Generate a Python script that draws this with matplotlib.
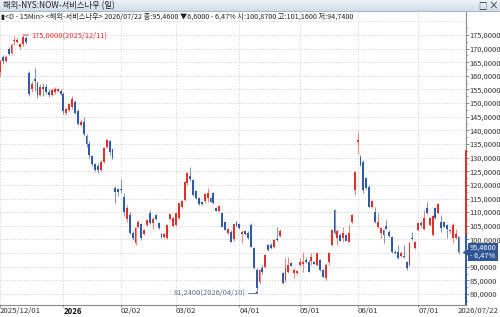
import numpy as np
import pandas as pd
import matplotlib
matplotlib.use("Agg")
import matplotlib.pyplot as plt
import matplotlib.transforms as mtransforms
from matplotlib.colors import LinearSegmentedColormap

FONT = ['Liberation Sans Narrow', 'Noto Sans CJK KR', 'DejaVu Sans']
plt.rcParams['font.family'] = FONT

# trading calendar (NYSE, 2025/12/01 - 2026/07/22)
holidays = ['2025-12-25', '2026-01-01', '2026-01-19', '2026-02-16',
            '2026-04-03', '2026-05-25', '2026-06-19', '2026-07-03']
dates = pd.bdate_range('2025-12-01', '2026-07-22', freq='C', holidays=holidays)

# daily OHLC, one line per month (Dec .. Jul)
opens = [
    161.5, 167.0, 165.5, 170.0, 168.3, 172.6, 172.4, 170.5, 171.5, 174.0, 161.0, 155.0, 159.0, 157.3, 153.0, 156.0, 156.0, 154.0, 153.0, 154.0, 154.5, 154.5,
    153.5, 146.5, 147.5, 148.5, 150.5, 147.0, 142.0, 143.0, 138.0, 135.0, 130.5, 127.5, 127.0, 125.5, 128.5, 134.0, 136.0, 133.0, 119.0, 118.5,
    118.5, 115.5, 107.5, 109.0, 102.3, 98.8, 104.7, 105.6, 101.9, 105.3, 109.6, 105.9, 109.0, 105.9, 102.0, 100.8, 100.4, 107.5, 105.0,
    105.3, 107.8, 112.0, 114.5, 120.6, 123.2, 121.8, 117.9, 115.3, 113.9, 114.2, 115.3, 115.1, 116.9, 111.4, 110.6, 109.6, 106.5, 102.3, 102.9, 100.0, 106.3,
    105.6, 102.0, 103.1, 102.5, 105.3, 96.8, 88.8, 84.5, 89.5, 90.0, 98.0, 98.0, 97.4, 100.2, 101.4, 87.6, 85.2, 88.2, 91.3, 87.7, 87.6,
    90.6, 90.9, 92.5, 91.9, 92.0, 91.6, 90.6, 92.5, 88.8, 85.8, 91.9, 98.0, 110.8, 100.4, 101.6, 100.4, 101.6, 99.2, 106.5, 118.2,
    135.6, 130.4, 128.5, 122.4, 119.4, 112.0, 110.2, 104.7, 102.3, 103.5, 105.0, 102.9, 101.0, 95.4, 95.5, 94.1, 93.8, 91.9, 90.7, 100.4, 97.0,
    103.5, 105.9, 103.9, 111.7, 105.3, 101.7, 111.4, 109.6, 106.5, 106.3, 105.3, 103.1, 100.4, 100.5, 100.87,
]
highs = [
    166.0, 167.5, 167.5, 170.5, 172.0, 174.6, 173.8, 172.0, 175.0, 174.5, 161.8, 158.0, 162.8, 158.0, 157.0, 157.3, 157.0, 155.0, 155.5, 156.0, 155.5, 155.0,
    154.0, 148.5, 150.0, 152.5, 151.0, 148.0, 144.0, 145.0, 138.5, 136.0, 131.0, 128.0, 128.0, 129.0, 134.0, 137.0, 136.5, 133.5, 119.5, 119.0,
    122.0, 117.0, 112.7, 110.0, 103.0, 104.5, 107.0, 106.0, 103.8, 107.5, 110.8, 108.4, 109.5, 106.3, 102.5, 102.3, 105.6, 109.5, 108.3,
    109.8, 113.5, 114.5, 121.5, 124.6, 126.7, 122.2, 118.3, 115.6, 114.2, 117.0, 119.0, 115.5, 117.4, 111.8, 112.6, 110.2, 106.8, 104.1, 103.3, 105.8, 106.6,
    106.0, 103.5, 103.4, 103.0, 106.0, 97.2, 89.5, 89.3, 90.6, 94.6, 98.4, 98.6, 100.0, 104.7, 103.8, 88.0, 93.1, 93.7, 91.8, 89.4, 88.8,
    93.1, 95.5, 93.5, 92.3, 95.0, 92.2, 95.0, 93.0, 89.2, 91.5, 95.5, 104.0, 111.2, 104.0, 102.5, 104.7, 102.0, 105.3, 109.2, 125.2,
    139.5, 131.0, 129.0, 123.0, 119.8, 114.6, 112.0, 109.6, 104.5, 104.0, 107.2, 103.3, 101.4, 96.0, 98.0, 95.6, 98.0, 92.2, 99.0, 102.8, 99.6,
    106.3, 106.7, 110.8, 113.9, 108.3, 109.0, 112.0, 113.5, 109.0, 106.8, 105.6, 103.8, 106.0, 103.8, 101.16,
]
lows = [
    160.0, 164.5, 165.0, 167.5, 168.0, 171.3, 172.0, 170.0, 171.0, 171.5, 152.5, 154.0, 154.5, 152.0, 152.5, 152.5, 153.5, 152.3, 152.5, 153.5, 154.0, 153.0,
    146.0, 145.5, 147.0, 148.0, 146.0, 142.0, 141.5, 138.0, 134.0, 129.8, 127.0, 125.0, 124.5, 125.0, 128.0, 133.5, 131.0, 129.5, 113.5, 116.0,
    117.0, 108.5, 106.5, 102.0, 99.8, 98.0, 104.2, 99.8, 101.5, 105.0, 105.5, 103.9, 107.0, 104.0, 100.5, 100.5, 100.0, 107.0, 104.5,
    105.0, 107.5, 111.5, 114.0, 120.0, 121.5, 116.0, 115.0, 112.8, 112.5, 113.5, 113.9, 113.6, 113.0, 110.4, 110.2, 104.5, 103.3, 102.0, 99.0, 99.5, 104.8,
    103.8, 98.6, 101.5, 100.0, 97.2, 89.2, 81.24, 83.8, 87.5, 89.5, 95.8, 96.6, 97.0, 99.6, 101.0, 83.6, 84.5, 87.8, 90.3, 85.7, 86.9,
    90.2, 88.2, 91.5, 88.0, 90.6, 90.9, 90.3, 88.5, 86.2, 85.0, 90.8, 97.5, 102.0, 98.0, 99.5, 99.2, 99.3, 99.0, 106.0, 116.4,
    131.5, 127.0, 117.2, 118.5, 111.8, 111.5, 106.2, 104.3, 100.4, 98.6, 103.8, 100.8, 95.0, 94.5, 93.0, 93.5, 93.1, 88.9, 90.3, 99.8, 96.6,
    103.0, 104.7, 103.5, 109.2, 104.8, 101.2, 107.5, 109.2, 102.9, 104.5, 100.4, 102.4, 98.6, 100.2, 94.74,
]
closes = [
    165.5, 165.5, 167.0, 168.0, 171.3, 173.2, 173.0, 171.5, 174.3, 172.5, 153.2, 157.0, 158.0, 153.0, 156.0, 155.0, 154.0, 153.0, 154.8, 155.0, 155.0, 153.5,
    147.0, 148.0, 149.5, 151.5, 146.5, 142.5, 143.0, 138.5, 135.0, 131.0, 127.5, 125.5, 125.5, 128.5, 133.5, 136.5, 132.0, 130.0, 117.5, 117.5,
    118.0, 110.0, 111.4, 102.3, 100.4, 104.1, 106.3, 100.4, 103.5, 107.0, 106.0, 107.6, 107.4, 104.1, 100.8, 102.0, 105.3, 109.2, 108.0,
    109.6, 113.3, 114.2, 121.2, 124.3, 122.0, 116.3, 115.3, 113.0, 113.0, 116.8, 116.9, 113.9, 113.3, 110.6, 112.2, 104.7, 103.5, 103.9, 99.2, 105.6, 105.0,
    104.1, 102.8, 101.9, 100.4, 97.4, 89.4, 82.1, 88.8, 88.0, 94.3, 96.1, 96.9, 99.8, 99.9, 103.1, 83.9, 89.4, 90.6, 90.4, 88.9, 88.5,
    91.8, 91.9, 91.9, 88.2, 93.6, 91.1, 94.9, 88.8, 86.4, 90.6, 94.9, 103.5, 102.3, 103.2, 99.6, 102.2, 99.6, 102.3, 109.0, 124.9,
    136.5, 127.3, 118.0, 118.8, 112.0, 114.2, 106.5, 106.3, 104.1, 101.7, 104.0, 101.1, 95.3, 94.9, 93.1, 95.2, 93.4, 89.4, 98.6, 100.0, 99.2,
    105.9, 105.3, 107.8, 109.6, 107.8, 108.7, 107.8, 112.9, 104.1, 104.7, 103.9, 103.5, 105.3, 102.06, 95.46,
]

price_ticks = [v for v in range(80, 180, 5) if v != 95]   # 95 sits under the price tag
grid_levels = list(range(80, 185, 5))
axis_band_top = 132.8          # top of red band on the price axis
prev_close = 102.06

title = "해외-NYS:NOW-서비스나우 (일)"
info = ("▮<D - 15Min> <해외-서비스나우> 2026/07/22 종:95,4600 ▼6,6000 - 6,47%"
        " 시:100,8700 고:101,1600 저:94,7400")

UP = '#e0302a'
DOWN = '#2f5aa6'
UP_WICK = '#ec8a84'
DOWN_WICK = '#8596b6'
GRID = '#cfcfcf'
TXT = '#333333'


def kfmt(v):
    return f"{v:,.4f}".replace('.', ',')


o = np.array(opens)
h = np.array(highs)
l = np.array(lows)
c = np.array(closes)
x = np.arange(len(dates))
up = c >= o

W, H = 500, 317
fig = plt.figure(figsize=(W / 100, H / 100), dpi=100)
fig.patch.set_facecolor('white')

ax = fig.add_axes([0, 1 - 305 / H, 466 / W, (305 - 12) / H])
ax.set_xlim(0.4, 161.6)
ax.set_ylim(75.95, 183.4)

# grid
for g in grid_levels:
    ax.axhline(g, color=GRID, lw=0.6, ls=(0, (1.5, 2)), zorder=0)

month_first = [i for i in range(len(dates)) if i == 0 or dates[i].month != dates[i - 1].month]
month_labels = []
for i in month_first:
    d = dates[i]
    if i == 0:
        month_labels.append(d.strftime('%Y/%m/%d'))
    elif d.month == 1:
        month_labels.append(str(d.year))
    else:
        month_labels.append(d.strftime('%m/%d'))
for i in month_first:
    ax.axvline(i, color=GRID, lw=0.6, ls=(0, (1.5, 2)), zorder=0)

# candles
ax.vlines(x[up], l[up], h[up], color=UP_WICK, lw=0.8, zorder=2)
ax.vlines(x[~up], l[~up], h[~up], color=DOWN_WICK, lw=0.8, zorder=2)
body_lo = np.minimum(o, c)
body_h = np.maximum(np.abs(c - o), 0.35)
ax.bar(x[up], body_h[up], bottom=body_lo[up], width=0.66, color=UP, lw=0, zorder=3)
ax.bar(x[~up], body_h[~up], bottom=body_lo[~up], width=0.66, color=DOWN, lw=0, zorder=3)

# high / low annotations
hi_i = int(np.argmax(h))
lo_i = int(np.argmin(l))
ax.annotate(f"{kfmt(h[hi_i])}({dates[hi_i].strftime('%Y/%m/%d')})",
            xy=(hi_i, h[hi_i]), xytext=(6, -0.5), textcoords='offset points',
            ha='left', va='center', fontsize=5.4, color=UP,
            arrowprops=dict(arrowstyle='-', color=UP, lw=0.6, shrinkA=0, shrinkB=0))
ax.annotate(f"{kfmt(l[lo_i])}({dates[lo_i].strftime('%Y/%m/%d')})",
            xy=(lo_i, l[lo_i]), xytext=(-8, -1.5), textcoords='offset points',
            ha='right', va='center', fontsize=5.4, color='#5b6e8c',
            arrowprops=dict(arrowstyle='-|>,head_length=0.25,head_width=0.12', color='#5b6e8c', lw=0.6,
                            connectionstyle='angle,angleA=0,angleB=90,rad=0',
                            shrinkA=0, shrinkB=0))

# axes styling
for s in ('top', 'left'):
    ax.spines[s].set_visible(False)
ax.spines['right'].set_color('#8a8a8a')
ax.spines['right'].set_linewidth(0.8)
ax.spines['bottom'].set_color('#8a8a8a')
ax.spines['bottom'].set_linewidth(0.8)

ax.yaxis.tick_right()
ax.set_yticks(price_ticks)
ax.set_yticklabels([kfmt(v) for v in price_ticks])
ax.set_yticks(np.arange(77.5, 180, 5), minor=True)
ax.tick_params(axis='y', which='major', length=2.0, width=0.6, color='#777777',
               labelsize=5.4, labelcolor=TXT, pad=0.5)
ax.tick_params(axis='y', which='minor', length=1.2, width=0.5, color='#999999')

ax.set_xticks(month_first)
ax.set_xticklabels(month_labels)
ax.tick_params(axis='x', length=1.5, width=0.6, color='#777777', labelsize=5.6,
               labelcolor=TXT, pad=0.3)
for lbl in ax.get_xticklabels():
    lbl.set_ha('left')
    if lbl.get_text() == '2026':
        lbl.set_fontweight('bold')
        lbl.set_color('#111111')

# red / blue band on the price axis and current price tag
bt = mtransforms.blended_transform_factory(ax.transAxes, ax.transData)
ax.plot([1, 1], [prev_close, axis_band_top], transform=bt, color=UP, lw=1.4,
        clip_on=False, zorder=5, solid_capstyle='butt')
ax.plot([1, 1], [ax.get_ylim()[0], prev_close], transform=bt, color=DOWN, lw=1.4,
        clip_on=False, zorder=5, solid_capstyle='butt')
chg = (c[-1] - prev_close) / prev_close * 100
ax.text(1.008, c[-1], f"{kfmt(c[-1])}\n- {abs(chg):.2f}%".replace('.', ','),
        transform=bt, ha='left', va='center', fontsize=5.3, color='white',
        linespacing=0.9, clip_on=False, zorder=6,
        bbox=dict(boxstyle='square,pad=0.2', fc='#2f5597', ec='none'))
ax.plot([1.0], [c[-1]], transform=bt, marker='<', ms=4, color='#2f5597',
        clip_on=False, zorder=6)

# right-bottom date
fig.text(499 / W, 1 - 311.5 / H, dates[-1].strftime('%Y/%m/%d'), fontsize=5.6,
         color=TXT, ha='right', va='center')

# title bar
tb = fig.add_axes([0, 1 - 11.5 / H, 1, 11.5 / H])
cmap = LinearSegmentedColormap.from_list('tb', ['#f0f4f9', '#d3deea'])
tb.imshow(np.linspace(0, 1, 20).reshape(-1, 1), aspect='auto', cmap=cmap,
          extent=[0, 1, 0, 1])
tb.set_xlim(0, 1)
tb.set_ylim(0, 1)
tb.axis('off')
tb.axhline(0.02, color='#a9b7c8', lw=0.8)
tb.text(3 / W, 0.5, title, fontsize=6.0, color='#222222', va='center', ha='left')
tb.text(0.965, 0.5, "□", fontsize=6, color='#222222', va='center', ha='center')
tb.text(0.987, 0.5, "×", fontsize=7, color='#222222', va='center', ha='center')

# info line
fig.text(1 / W, 1 - 16.5 / H, info, fontsize=5.2, color='#222222', ha='left', va='center')

fig.savefig('out.png', dpi=100)
